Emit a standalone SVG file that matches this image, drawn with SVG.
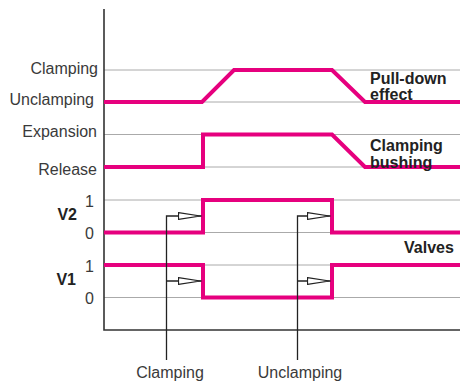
<svg xmlns="http://www.w3.org/2000/svg" width="460" height="385" viewBox="0 0 460 385">
<defs>
<style>
.grid{stroke:#aaaaaa;stroke-width:1;fill:none}
.axis{stroke:#333333;stroke-width:1.6;fill:none}
.sig{stroke:#e6007e;stroke-width:4;fill:none;stroke-linejoin:miter}
.lead{stroke:#222222;stroke-width:1.3;fill:none}
.lbl{font-family:"Liberation Sans",Arial,sans-serif;font-size:16px;fill:#3a3a3a}
.bold{font-family:"Liberation Sans",Arial,sans-serif;font-size:16px;font-weight:bold;fill:#222222}
</style>
<marker id="open" viewBox="0 0 24 8" refX="24" refY="4" markerWidth="24" markerHeight="8" markerUnits="userSpaceOnUse" orient="auto">
<path d="M1,0.6 L23,4 L1,7.4 Z" fill="#ffffff" stroke="#222222" stroke-width="1.2"/>
</marker>
</defs>
<rect width="460" height="385" fill="#ffffff"/>
<g id="grid">
<line class="grid" x1="104" y1="70" x2="460" y2="70"/>
<line class="grid" x1="104" y1="102" x2="460" y2="102"/>
<line class="grid" x1="104" y1="134.5" x2="460" y2="134.5"/>
<line class="grid" x1="104" y1="167" x2="460" y2="167"/>
<line class="grid" x1="104" y1="200" x2="460" y2="200"/>
<line class="grid" x1="104" y1="232.5" x2="460" y2="232.5"/>
<line class="grid" x1="104" y1="265" x2="460" y2="265"/>
<line class="grid" x1="104" y1="297.5" x2="460" y2="297.5"/>
</g>
<g id="axes">
<path class="axis" d="M104,9 V330 H460"/>
</g>
<g id="signals">
<path id="pulldown" class="sig" d="M104,102 H202 L234,70 H332 L365,102 H460"/>
<path id="bushing" class="sig" d="M104,167 H203 V134.5 H332 L365,167 H460"/>
<path id="v2" class="sig" d="M104,232.5 H203 V200 H332 V232.5 H460"/>
<path id="v1" class="sig" d="M104,265 H203 V297.5 H332 V265 H460"/>
</g>
<g id="connectors">
<path class="lead" d="M166.5,360 V216 H201.5" marker-end="url(#open)"/>
<path class="lead" d="M166.5,281 H201.5" marker-end="url(#open)"/>
<path class="lead" d="M297.5,360 V216 H330.5" marker-end="url(#open)"/>
<path class="lead" d="M297.5,281 H330.5" marker-end="url(#open)"/>
</g>
<g id="left-labels">
<text class="lbl" x="98" y="74" text-anchor="end">Clamping</text>
<text class="lbl" x="94" y="104.5" text-anchor="end">Unclamping</text>
<text class="lbl" x="97" y="137" text-anchor="end">Expansion</text>
<text class="lbl" x="97" y="174.5" text-anchor="end">Release</text>
<text class="bold" x="77" y="220" text-anchor="end">V2</text>
<text class="lbl" x="94" y="207" text-anchor="end">1</text>
<text class="lbl" x="94" y="239" text-anchor="end">0</text>
<text class="bold" x="76" y="285" text-anchor="end">V1</text>
<text class="lbl" x="94" y="272" text-anchor="end">1</text>
<text class="lbl" x="94" y="304" text-anchor="end">0</text>
</g>
<g id="right-labels">
<text class="bold" x="370" y="84">Pull-down</text>
<text class="bold" x="370" y="99.5">effect</text>
<text class="bold" x="370" y="151">Clamping</text>
<text class="bold" x="370" y="167.5">bushing</text>
<text class="bold" x="404" y="252.5">Valves</text>
</g>
<g id="bottom-labels">
<text class="lbl" x="170" y="378" text-anchor="middle">Clamping</text>
<text class="lbl" x="300" y="378" text-anchor="middle">Unclamping</text>
</g>
</svg>
